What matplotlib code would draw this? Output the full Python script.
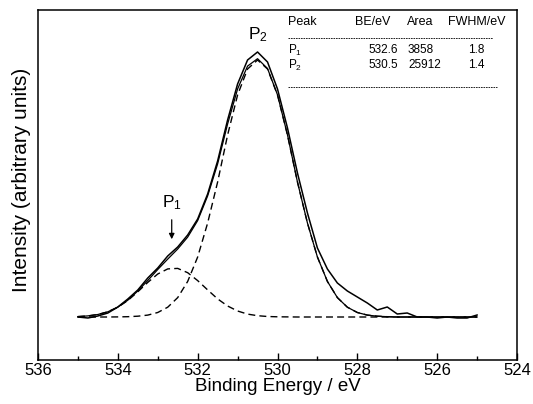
import matplotlib
matplotlib.use('Agg')
import matplotlib.pyplot as plt
from matplotlib.ticker import MultipleLocator

plt.rcParams['font.family'] = ['Liberation Sans', 'DejaVu Sans']
plt.rcParams['mathtext.fontset'] = 'custom'
plt.rcParams['mathtext.rm'] = 'Liberation Sans'
plt.rcParams['mathtext.default'] = 'regular'

# binding energy grid (eV)
energy = [535.0, 534.75, 534.5, 534.25, 534.0, 533.75, 533.5, 533.25, 533.0, 532.75,
          532.5, 532.25, 532.0, 531.75, 531.5, 531.25, 531.0, 530.75, 530.5, 530.25,
          530.0, 529.75, 529.5, 529.25, 529.0, 528.75, 528.5, 528.25, 528.0, 527.75,
          527.5, 527.25, 527.0, 526.75, 526.5, 526.25, 526.0, 525.75, 525.5, 525.25,
          525.0]

# measured spectrum (arbitrary units)
measured = [43, 42, 44, 47, 53, 61, 70, 82, 92, 104,
            113, 125, 141, 166, 199, 240, 276, 300, 308, 298,
            271, 232, 187, 147, 112, 91, 77, 69, 63, 57,
            50, 53, 46, 47, 43, 43, 42, 43, 42, 42,
            45]

# fitted envelope
envelope = [43.4, 44.1, 45.5, 48.2, 52.9, 59.8, 69.0, 79.5, 90.5, 100.9,
            111.0, 122.9, 139.4, 164.1, 196.1, 236.0, 271.0, 293.9, 301.3, 291.5,
            265.2, 225.1, 178.0, 137.0, 103.0, 78.6, 62.4, 52.8, 47.5, 44.9,
            43.8, 43.3, 43.0, 43.0, 43.0, 43.0, 43.0, 43.0, 43.0, 43.0,
            43.0]

# component P1 (532.6 eV)
peak_p1 = [43.4, 44.1, 45.5, 48.2, 52.8, 59.5, 68.2, 77.6, 86.0, 91.1,
           91.6, 87.3, 79.4, 70.1, 61.1, 54.0, 49.0, 45.9, 44.3, 43.5,
           43.2, 43.1, 43.0, 43.0, 43.0, 43.0, 43.0, 43.0, 43.0, 43.0,
           43.0, 43.0, 43.0, 43.0, 43.0, 43.0, 43.0, 43.0, 43.0, 43.0,
           43.0]

# component P2 (530.5 eV)
peak_p2 = [43.0, 43.0, 43.0, 43.0, 43.1, 43.3, 43.8, 44.9, 47.5, 52.8,
           62.4, 78.6, 103.0, 137.0, 178.0, 225.0, 265.0, 291.0, 300.0, 291.0,
           265.0, 225.0, 178.0, 137.0, 103.0, 78.6, 62.4, 52.8, 47.5, 44.9,
           43.8, 43.3, 43.0, 43.0, 43.0, 43.0, 43.0, 43.0, 43.0, 43.0,
           43.0]

table_header = ['Peak', 'BE/eV', 'Area', 'FWHM/eV']
table_peaks = ['P$_1$', 'P$_2$']
table_be = ['532.6', '530.5']
table_area = ['3858', '25912']
table_fwhm = ['1.8', '1.4']

fig = plt.figure(figsize=(5.33, 4.04), dpi=100)
ax = fig.add_axes([38 / 533, 44 / 404, 479 / 533, 350 / 404])

ax.plot(energy, measured, color='black', lw=1.1)
ax.plot(energy, envelope, color='black', lw=0.9)
ax.plot(energy, peak_p1, color='black', lw=1.0, dashes=(5, 3))
ax.plot(energy, peak_p2, color='black', lw=1.0, dashes=(5, 3))

ax.set_xlim(536, 524)
ax.set_ylim(0, 350)
ax.xaxis.set_major_locator(MultipleLocator(2))
ax.xaxis.set_minor_locator(MultipleLocator(1))
ax.tick_params(axis='x', which='major', direction='in', length=5, width=1, pad=2, labelsize=12)
ax.tick_params(axis='x', which='minor', direction='in', length=3, width=1)
ax.set_yticks([])
for s in ax.spines.values():
    s.set_linewidth(1.1)

ax.set_xlabel('Binding Energy / eV', fontsize=13.5, labelpad=0)
fig.text(22 / 533, 1 - 180 / 404, 'Intensity (arbitrary units)', rotation=90,
         ha='center', va='center', fontsize=15)

# peak labels
ax.text(530.5, 325, 'P$_2$', ha='center', va='center', fontsize=12.5)
ax.annotate('', xy=(532.65, 118), xytext=(532.65, 143),
            arrowprops=dict(arrowstyle='-|>', lw=0.9, color='black', mutation_scale=8))
ax.text(532.65, 157, 'P$_1$', ha='center', va='center', fontsize=12.5)

# fit results table
cols = [529.74, 528.06, 526.76, 525.73]
for c, h in zip(cols, table_header):
    ax.text(c, 338, h, ha='left', va='center', fontsize=9)
ax.plot([529.74, 524.6], [322, 322], color='black', lw=0.6, dashes=(2, 1))
rows_y = [310, 295]
for i in range(2):
    ax.text(529.74, rows_y[i], table_peaks[i], ha='left', va='center', fontsize=8.5)
    ax.text(527.73, rows_y[i], table_be[i], ha='left', va='center', fontsize=8.5)
    ax.text(526.73, rows_y[i], table_area[i], ha='left', va='center', fontsize=8.5)
    ax.text(525.23, rows_y[i], table_fwhm[i], ha='left', va='center', fontsize=8.5)
ax.plot([529.74, 524.5], [273, 273], color='black', lw=0.6, dashes=(2, 1))

fig.savefig('out.png', dpi=100)
